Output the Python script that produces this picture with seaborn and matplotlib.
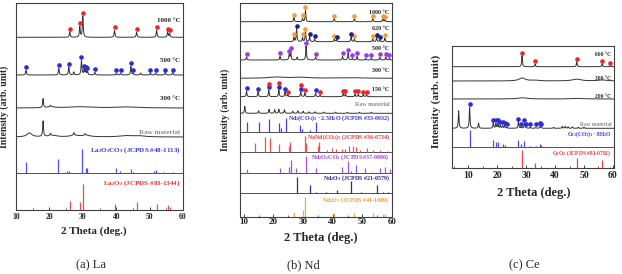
"""XRD patterns of La, Nd and Ce samples at several calcination temperatures."""
import matplotlib

matplotlib.use("Agg")
import matplotlib.pyplot as plt
import numpy as np
import seaborn as sns
from matplotlib.ticker import MultipleLocator

sns.set_theme(style="white")
plt.rcParams["font.family"] = ["Liberation Serif", "DejaVu Serif"]
plt.rcParams["font.weight"] = "bold"
plt.rcParams["mathtext.fontset"] = "custom"
plt.rcParams["mathtext.rm"] = "Liberation Serif:bold"
plt.rcParams["mathtext.it"] = "Liberation Serif:bold:italic"
plt.rcParams["mathtext.bf"] = "Liberation Serif:bold"

# ---------------------------------------------------------------- data
# peak positions (2 theta, deg) and heights (arb.)

# (a) La
la_1000_pos = [26.1, 29.1, 30.0, 39.5, 46.1, 52.1, 55.4, 56.0]
la_1000_hgt = [5.5, 10.5, 21.0, 7.0, 5.0, 7.0, 5.5, 3.5]
la_1000_mk = [26.1, 29.1, 30.0, 39.5, 46.1, 52.1, 55.4, 56.0]

la_500_pos = [13.0, 22.8, 25.8, 27.3, 29.6, 30.4, 30.9, 31.4, 33.6, 40.0, 41.3,
              44.4, 45.1, 47.3, 50.2, 51.8, 54.7, 56.9]
la_500_hgt = [4.5, 6.5, 8.0, 3.0, 14.5, 5.5, 4.0, 3.5, 2.5, 1.5, 1.7,
              8.5, 1.5, 2.0, 1.7, 1.7, 2.3, 2.3]
la_500_mk = [13.0, 22.8, 25.8, 29.6, 30.4, 30.9, 31.4, 33.6, 40.0, 41.3, 44.4,
             45.1, 50.2, 51.8, 54.7, 56.9]

la_300_pos = [18.1, 20.3]
la_300_hgt = [9.0, 1.5]
la_300_hump_pos = [20.5, 29.0, 43.0]
la_300_hump_hgt = [1.0, 1.2, 1.0]
la_300_hump_wid = [1.5, 4.0, 4.0]

la_raw_pos = [18.1, 20.3, 27.3, 30.7]
la_raw_hgt = [15.5, 2.0, 2.5, 1.5]
la_raw_hump_pos = [14.0, 20.8, 27.5, 31.0, 43.0, 47.0]
la_raw_hump_hgt = [4.0, 1.5, 1.5, 1.5, 1.2, 1.0]
la_raw_hump_wid = [0.9, 1.5, 1.5, 1.5, 2.5, 2.0]

la2o2co3_pos = [13.0, 22.7, 25.3, 26.0, 29.7, 30.9, 31.3, 40.0, 41.0, 44.3, 45.0,
                51.3, 52.0, 54.0, 57.0]
la2o2co3_hgt = [11.0, 14.0, 2.0, 2.3, 24.5, 5.0, 5.0, 5.3, 1.7, 3.7, 1.5,
                2.0, 2.7, 1.3, 1.5]
la2o3_pos = [26.1, 29.1, 30.0, 39.5, 46.1, 52.1, 55.4, 56.0]
la2o3_hgt = [9.0, 8.0, 26.5, 6.5, 8.5, 6.0, 5.5, 3.0]

# (b) Nd
nd_1000_pos = [26.9, 29.8, 30.8, 40.5, 47.3, 53.5, 56.9, 57.6]
nd_1000_hgt = [4.0, 3.0, 11.5, 3.0, 3.0, 3.0, 3.0, 2.0]
nd_1000_mk = [26.9, 29.8, 30.8, 40.5, 47.3, 53.5, 56.9, 57.6]

nd_620_pos = [26.9, 27.8, 29.8, 30.8, 32.2, 33.9, 40.5, 41.3, 46.2, 47.3, 53.5,
              54.8, 55.9, 57.6]
nd_620_hgt = [4.0, 13.0, 4.0, 10.0, 5.0, 2.5, 2.5, 2.0, 5.0, 2.5, 2.5,
              4.0, 2.0, 3.5]
nd_620_mk_cubic = [27.8, 32.2, 33.9, 41.3, 46.2, 54.8, 55.9]
nd_620_mk_hex = [26.9, 29.8, 30.8, 40.5, 47.3, 53.5, 57.6]

nd_500_pos = [10.9, 22.2, 25.3, 25.8, 28.0, 31.0, 34.2, 43.3, 45.2, 46.6, 48.2,
              51.1, 53.0, 55.9, 57.9, 59.1]
nd_500_hgt = [3.0, 3.5, 5.0, 9.0, 3.0, 14.0, 3.0, 3.5, 7.0, 1.5, 3.5,
              1.5, 1.5, 2.5, 3.0, 1.5]
nd_500_mk = [10.9, 22.2, 25.3, 25.8, 31.0, 34.2, 43.3, 45.2, 46.6, 48.2,
             51.1, 53.0, 55.9, 57.9, 59.1]

nd_300_hump_pos = [21.0, 29.0, 45.0]
nd_300_hump_hgt = [1.2, 1.0, 0.6]
nd_300_hump_wid = [3.0, 3.0, 5.0]

nd_150_pos = [10.9, 14.8, 18.4, 21.8, 23.9, 24.8, 29.2, 30.6, 34.2, 35.7, 43.5,
              44.3, 47.5, 48.6, 50.3, 51.4]
nd_150_hgt = [5.5, 5.0, 6.5, 7.0, 5.0, 2.0, 5.0, 3.5, 3.5, 1.5, 3.0,
              3.0, 2.5, 2.5, 2.0, 2.0]
nd_150_mk_carb = [10.9, 14.8, 18.4, 21.8, 23.9, 29.2, 34.2]
nd_150_mk_nand = [18.4, 21.8, 24.8, 29.2, 30.6, 35.7, 43.5, 44.3, 47.5, 48.6,
                  50.3, 51.4]

nd_raw_pos = [10.3, 15.0, 18.5, 20.4, 21.8, 23.7, 26.5, 28.2, 30.0, 32.0, 34.0,
              37.0, 41.0, 45.0, 49.0, 53.0]
nd_raw_hgt = [7.0, 2.5, 4.0, 3.5, 4.0, 3.5, 2.0, 2.5, 2.0, 1.5, 1.5,
              1.2, 1.2, 1.0, 1.0, 1.0]

nd_carb_pos = [10.9, 15.0, 18.5, 21.9, 22.4, 24.1, 28.9, 29.5, 32.3, 34.3]
nd_carb_hgt = [10.0, 9.5, 12.5, 9.0, 4.0, 14.0, 6.5, 2.5, 2.0, 9.5]
nand_pos = [13.6, 17.3, 18.8, 22.0, 25.1, 25.5, 30.5, 31.0, 35.0, 35.3, 37.9,
            39.8, 41.0, 43.0, 44.2, 45.5, 46.7, 47.8, 49.2, 51.4, 53.6, 55.9, 58.7]
nand_hgt = [9.0, 15.0, 13.5, 7.5, 6.0, 10.0, 16.0, 9.0, 6.0, 9.5, 2.0,
            4.0, 2.5, 2.5, 3.0, 5.5, 5.5, 5.0, 2.0, 3.5, 2.0, 1.5, 1.0]
nd2o2co3_pos = [10.9, 22.2, 25.3, 25.8, 27.7, 30.9, 34.2, 43.1, 45.0, 46.3, 48.0,
                51.0, 52.8, 55.8, 57.8, 59.3]
nd2o2co3_hgt = [3.3, 4.3, 6.0, 12.7, 4.3, 16.7, 5.0, 6.0, 11.7, 2.0, 7.7,
                4.3, 1.0, 4.3, 6.0, 3.3]
nd2o3_c_pos = [27.8, 32.2, 34.3, 37.8, 41.4, 46.2, 49.5, 54.8, 56.8, 58.5]
nd2o3_c_hgt = [16.5, 8.0, 1.0, 1.0, 3.0, 12.0, 1.0, 8.0, 1.0, 1.0]
nd2o3_h_pos = [26.9, 29.8, 30.8, 40.5, 47.3, 53.5, 56.9, 57.6]
nd2o3_h_hgt = [5.0, 7.0, 20.0, 4.5, 4.5, 4.5, 3.5, 3.0]

# (c) Ce
ce_600_pos = [28.55, 33.1, 47.5, 56.3, 59.1]
ce_600_hgt = [11.0, 2.5, 5.0, 3.0, 1.0]
ce_600_mk = [28.55, 33.1, 47.5, 56.3, 59.1]

ce_300_hump_pos = [28.6, 33.0, 47.5, 56.3]
ce_300_hump_hgt = [3.0, 0.7, 1.8, 1.0]
ce_300_hump_wid = [1.3, 1.5, 1.8, 1.8]

ce_200_hump_pos = [28.6, 47.5]
ce_200_hump_hgt = [1.2, 0.6]
ce_200_hump_wid = [2.0, 2.5]

ce_raw_pos = [6.6, 10.4, 13.5, 18.6, 19.5, 20.2, 21.0, 21.8, 22.5, 23.3, 27.3,
              28.3, 29.4, 30.0, 31.4, 33.3, 34.8, 35.2, 39.5, 42.5, 43.5, 44.5,
              46.0, 48.0, 50.0]
ce_raw_hgt = [17.5, 21.0, 5.0, 5.5, 4.5, 4.5, 3.0, 2.5, 2.5, 1.0, 6.5,
              1.5, 5.0, 1.0, 1.0, 0.8, 2.0, 0.8, 1.0, 2.0, 2.0, 1.5,
              1.5, 1.0, 1.0]
ce_raw_mk = [10.4, 18.6, 19.5, 20.2, 21.0, 21.8, 22.5, 23.3, 27.3, 28.3, 29.4,
             30.0, 31.4, 33.3, 34.8, 35.2]

ce_carb_pos = [10.4, 18.6, 19.5, 20.2, 21.8, 22.5, 27.3, 28.3, 29.4, 31.4, 33.3,
               34.8, 35.2]
ce_carb_hgt = [16.5, 6.5, 5.0, 4.5, 2.5, 2.0, 7.0, 3.0, 6.0, 1.0, 1.0, 3.0, 2.0]
ceo2_pos = [28.55, 33.08, 47.48, 56.34, 59.09]
ceo2_hgt = [18.0, 5.0, 10.0, 8.0, 1.5]

# ---------------------------------------------------------------- styling
W, H = 622, 274
LINE = "#333333"
RED, BLUE, ORANGE, NAVY, PURPLE = "#e8262b", "#2b2bd9", "#f29b38", "#1f1f80", "#9a3de0"
SHARP = 0.15

fig = plt.figure(figsize=(W / 100, H / 100), dpi=100)


def add_box(left, top, right, bottom):
    return fig.add_axes([left / W, 1 - bottom / H, (right - left) / W, (bottom - top) / H])


def fig_text(x, y, s, **kw):
    fig.text(x / W, 1 - y / H, s, **kw)


def profile(grid, pos, hgt, wid):
    y = np.zeros_like(grid)
    for p, h, w in zip(pos, hgt, wid):
        y += h / (1 + ((grid - p) / w) ** 2)
    return y


def trace(ax, grid, base, pos=(), hgt=(), humps=None, marks=()):
    y = profile(grid, pos, hgt, [SHARP] * len(pos))
    if humps:
        y = y + profile(grid, *humps)
    sns.lineplot(x=grid, y=base + y, ax=ax, color=LINE, lw=0.7,
                 estimator=None, sort=False, errorbar=None)
    for xs, color, lift in marks:
        tops = np.array([y[np.abs(grid - p) < 0.2].max() for p in xs])
        sns.scatterplot(x=xs, y=base + tops + 3.0 + np.asarray(lift), ax=ax,
                        color=color, s=11, linewidth=0, legend=False, zorder=3)


def sticks(ax, base, pos, hgt, color):
    ax.axhline(base, color=LINE, lw=0.6)
    ax.vlines(pos, base, base + np.asarray(hgt), color=color, lw=0.9)


def label(ax, y, s, size, color="#222222"):
    ax.text(0.985, y, s, transform=ax.get_yaxis_transform(), ha="right",
            va="center", fontsize=size, color=color)


def frame(ax, xlim, height, tick_size, pad):
    ax.set_xlim(*xlim)
    ax.set_ylim(0, height)
    ax.set_yticks([])
    ax.set_xticks([10, 20, 30, 40, 50, 60])
    ax.xaxis.set_minor_locator(MultipleLocator(5))
    ax.tick_params(axis="x", which="major", direction="in", length=2.5, width=0.6,
                   labelsize=tick_size, pad=pad, colors="#222222", bottom=True)
    ax.tick_params(axis="x", which="minor", direction="in", length=1.5, width=0.5,
                   bottom=True)
    for sp in ax.spines.values():
        sp.set_color("#404040")
        sp.set_linewidth(0.8)


# ---------------------------------------------------------------- (a) La
ax = add_box(16, 3, 183, 210)
g = np.arange(10, 60, 0.02)
trace(ax, g, 172.7, la_1000_pos, la_1000_hgt, marks=[(la_1000_mk, RED, 0)])
trace(ax, g, 135, la_500_pos, la_500_hgt, marks=[(la_500_mk, BLUE, 0)])
trace(ax, g, 102, la_300_pos, la_300_hgt, (la_300_hump_pos, la_300_hump_hgt, la_300_hump_wid))
trace(ax, g, 73, la_raw_pos, la_raw_hgt, (la_raw_hump_pos, la_raw_hump_hgt, la_raw_hump_wid))
sticks(ax, 37, la2o2co3_pos, la2o2co3_hgt, "#5050f0")
sticks(ax, 0, la2o3_pos, la2o3_hgt, "#f04848")
label(ax, 190, "1000 °C", 5)
label(ax, 149, "500 °C", 5)
label(ax, 111, "300 °C", 5)
label(ax, 78, "Raw material", 5, "#8a8a8a")
label(ax, 60, "La$_2$O$_2$CO$_3$ (JCPDS #48-1113)", 5, "#3535e8")
label(ax, 27, "La$_2$O$_3$ (JCPDS #83-1344)", 5, "#ee3030")
frame(ax, (10, 60), 207, 5.5, 2)
fig_text(93.5, 231.5, "2 Theta (deg.)", ha="center", va="center", fontsize=8)
fig_text(4, 106.7, "Intensity (arb. unit)", ha="center", va="center", rotation=90, fontsize=7)
fig_text(90.7, 265.5, "(a) La", ha="center", va="center", fontsize=9, fontweight="normal")

# ---------------------------------------------------------------- (b) Nd
ax = add_box(240, 3, 392, 217)
g = np.arange(8.7, 60, 0.02)
trace(ax, g, 195.3, nd_1000_pos, nd_1000_hgt, marks=[(nd_1000_mk, ORANGE, 0)])
trace(ax, g, 175.3, nd_620_pos, nd_620_hgt,
      marks=[(nd_620_mk_hex, ORANGE, 0), (nd_620_mk_cubic, NAVY, 0)])
trace(ax, g, 157, nd_500_pos, nd_500_hgt, marks=[(nd_500_mk, PURPLE, 0)])
trace(ax, g, 138.7, humps=(nd_300_hump_pos, nd_300_hump_hgt, nd_300_hump_wid))
stacked = [3.5 if p in nd_150_mk_carb else 0 for p in nd_150_mk_nand]
trace(ax, g, 120.3, nd_150_pos, nd_150_hgt,
      marks=[(nd_150_mk_carb, BLUE, 0), (nd_150_mk_nand, RED, stacked)])
trace(ax, g, 103.7, nd_raw_pos, nd_raw_hgt)
sticks(ax, 85.3, nd_carb_pos, nd_carb_hgt, "#4040f0")
sticks(ax, 65.3, nand_pos, nand_hgt, "#f05050")
sticks(ax, 44.3, nd2o2co3_pos, nd2o2co3_hgt, "#a050e8")
sticks(ax, 23.7, nd2o3_c_pos, nd2o3_c_hgt, "#2a2a90")
sticks(ax, 0, nd2o3_h_pos, nd2o3_h_hgt, "#f5a850")
label(ax, 204.7, "1000 °C", 4.3)
label(ax, 188.7, "620 °C", 4.3)
label(ax, 168.7, "500 °C", 4.3)
label(ax, 147, "300 °C", 4.3)
label(ax, 127.7, "150 °C", 4.3)
label(ax, 113, "Raw material", 4.3, "#8a8a8a")
label(ax, 98.7, "Nd$_2$(CO$_3$)$_3$ · 2.5H$_2$O (JCPDS #33-0932)", 4.3, "#3030e8")
label(ax, 80.3, "NaNd(CO$_3$)$_2$ (JCPDS #36-0734)", 4.3, "#ee3838")
label(ax, 60.3, "Nd$_2$O$_2$CO$_3$ (JCPDS #37-0806)", 4.3, "#9a40e0")
label(ax, 38.7, "Nd$_2$O$_3$ (JCPDS #21-0579)", 4.3, "#24248a")
label(ax, 17, "Nd$_2$O$_3$ (JCPDS #41-1089)", 4.3, "#f29b38")
frame(ax, (8.7, 60), 214, 6.5, 1)
fig_text(320.8, 238.3, "2 Theta (deg.)", ha="center", va="center", fontsize=9)
fig_text(225, 110, "Intensity (arb. unit)", ha="center", va="center", rotation=90, fontsize=7)
fig_text(303.7, 265.5, "(b) Nd", ha="center", va="center", fontsize=9, fontweight="normal")

# ---------------------------------------------------------------- (c) Ce
ax = add_box(452, 46, 614, 168)
g = np.arange(4.3, 60.4, 0.02)
trace(ax, g, 101.3, ce_600_pos, ce_600_hgt, marks=[(ce_600_mk, RED, 0)])
trace(ax, g, 87, humps=(ce_300_hump_pos, ce_300_hump_hgt, ce_300_hump_wid))
trace(ax, g, 69, humps=(ce_200_hump_pos, ce_200_hump_hgt, ce_200_hump_wid))
trace(ax, g, 39.7, ce_raw_pos, ce_raw_hgt, marks=[(ce_raw_mk, BLUE, 0)])
sticks(ax, 21.3, ce_carb_pos, ce_carb_hgt, "#4a4af0")
sticks(ax, 0, ceo2_pos, ceo2_hgt, "#f04040")
label(ax, 113, "600 °C", 4)
label(ax, 89.7, "300 °C", 4)
label(ax, 72, "200 °C", 4)
label(ax, 44, "Raw material", 4, "#8a8a8a")
label(ax, 33.7, "Ce$_2$(CO$_3$)$_3$ · 8H$_2$O", 4, "#3030e8")
label(ax, 15.3, "CeO$_2$ (JCPDS #81-0792)", 4, "#ee3030")
frame(ax, (4.3, 60.4), 122, 7, 2.5)
fig_text(533.3, 193.3, "2 Theta (deg.)", ha="center", va="center", fontsize=9)
fig_text(436, 101.7, "Intensity (arb. unit)", ha="center", va="center", rotation=90, fontsize=8)
fig_text(524.5, 265.5, "(c) Ce", ha="center", va="center", fontsize=9, fontweight="normal")

fig.savefig("out.png", dpi=100)
